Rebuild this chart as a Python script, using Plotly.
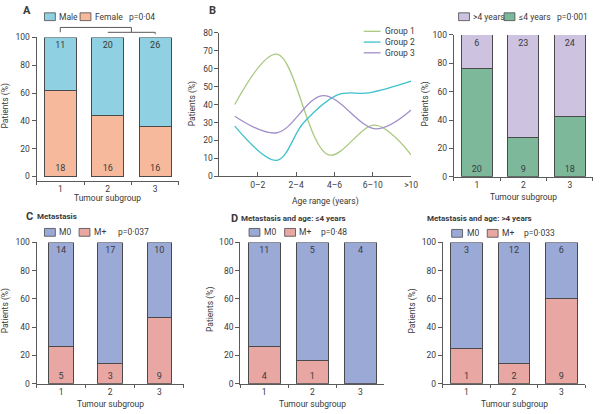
import plotly.graph_objects as go

# ---------------- data ----------------
subgroups = ["1", "2", "3"]

# A: sex
male_n = [11, 20, 26]
female_n = [18, 16, 16]
female_pct = [62, 44, 36]
male_pct = [38, 56, 64]

# B (right): age
over4_n = [6, 23, 24]
under4_n = [20, 9, 18]
under4_pct = [76.5, 28, 42.5]
over4_pct = [23.5, 72, 57.5]

# B (left): age distribution curves
age_labels = ["0–2", "2–4", "4–6", "6–10", ">10"]
g1_x = [0.4, 1.5, 2.85, 4.05, 5.0]
g1_y = [40, 68, 12, 28.5, 12]
g2_x = [0.4, 1.5, 2.2, 3.1, 3.9, 5.0]
g2_y = [28, 9, 30, 45.5, 46.5, 53]
g3_x = [0.4, 1.5, 2.7, 4.07, 5.0]
g3_y = [33.5, 24.3, 45, 26.5, 37]

# C: metastasis
c_m0_n = [14, 17, 10]
c_mp_n = [5, 3, 9]
c_mp_pct = [26, 14.5, 47]
c_m0_pct = [74, 85.5, 53]

# D: metastasis, age <=4
d_m0_n = [11, 5, 4]
d_mp_n = [4, 1, ""]
d_mp_pct = [26.5, 16.5, 0]
d_m0_pct = [73.5, 83.5, 100]

# E: metastasis, age >4
e_m0_n = [3, 12, 6]
e_mp_n = [1, 2, 9]
e_mp_pct = [25, 14, 60]
e_m0_pct = [75, 86, 40]

# ---------------- style ----------------
FONT = "Roboto, Liberation Sans, sans-serif"
FS = 8.5
TXT = "#3a3a3a"
AX = "#5a5a5a"
OUT = "#4a4a4a"
C_MALE = "#8fd0e2"
C_FEMALE = "#f7b99c"
C_OVER4 = "#cec2e1"
C_UNDER4 = "#7db89b"
C_M0 = "#9ba9d7"
C_MP = "#e8a7a2"
C_G1 = "#a9c97f"
C_G2 = "#3dc1ca"
C_G3 = "#a18fc9"

W, H = 600, 414


def px(x):
    return x / W


def py(y):
    return 1 - y / H


fig = go.Figure()
shapes = []
annotations = []


def add_stack(xa, ya, bottom, top, bottom_n, top_n, cb, ct, width, nb, nt):
    fig.add_trace(go.Bar(
        x=subgroups, y=bottom, name=nb, xaxis=xa, yaxis=ya, width=width,
        marker=dict(color=cb, line=dict(color=OUT, width=1)),
        text=bottom_n, textposition="inside", insidetextanchor="start",
        textangle=0, constraintext="none",
        textfont=dict(color=TXT, size=FS + 0.5, family=FONT), showlegend=False))
    fig.add_trace(go.Bar(
        x=subgroups, y=top, name=nt, xaxis=xa, yaxis=ya, width=width,
        marker=dict(color=ct, line=dict(color=OUT, width=1)),
        text=top_n, textposition="inside", insidetextanchor="end",
        textangle=0, constraintext="none",
        textfont=dict(color=TXT, size=FS + 0.5, family=FONT), showlegend=False))


add_stack("x", "y", female_pct, male_pct, female_n, male_n, C_FEMALE, C_MALE, 0.67, "Female", "Male")
add_stack("x3", "y3", under4_pct, over4_pct, under4_n, over4_n, C_UNDER4, C_OVER4, 0.66, "≤4 years", ">4 years")
add_stack("x4", "y4", c_mp_pct, c_m0_pct, c_mp_n, c_m0_n, C_MP, C_M0, 0.5, "M+", "M0")
add_stack("x5", "y5", d_mp_pct, d_m0_pct, d_mp_n, d_m0_n, C_MP, C_M0, 0.67, "M+", "M0")
add_stack("x6", "y6", e_mp_pct, e_m0_pct, e_mp_n, e_m0_n, C_MP, C_M0, 0.67, "M+", "M0")

for gx, gy, col, nm in [(g1_x, g1_y, C_G1, "Group 1"), (g2_x, g2_y, C_G2, "Group 2"), (g3_x, g3_y, C_G3, "Group 3")]:
    fig.add_trace(go.Scatter(x=gx, y=gy, mode="lines", name=nm, xaxis="x2", yaxis="y2",
                             line=dict(color=col, width=1.3, shape="spline", smoothing=1.0),
                             showlegend=False, cliponaxis=False))

tickfont = dict(family=FONT, size=FS, color=TXT)


def bar_axes(n, x0, x1, y0, y100, yrange):
    sx = "" if n == 1 else str(n)
    fig.update_layout(**{
        f"xaxis{sx}": dict(domain=[px(x0), px(x1)], anchor=f"y{sx}", type="category",
                           tickson="boundaries", ticks="outside", ticklen=3, tickcolor=AX,
                           showline=True, linecolor=AX, linewidth=1, showgrid=False,
                           range=[-0.5, 2.5], tickfont=tickfont, zeroline=False),
        f"yaxis{sx}": dict(domain=[py(y0), py(y100)], anchor=f"x{sx}", range=yrange,
                           tickvals=[0, 20, 40, 60, 80, 100], ticks="outside", ticklen=4,
                           tickcolor=AX, showline=True, linecolor=AX, linewidth=1,
                           showgrid=False, zeroline=False, tickfont=tickfont),
    })


bar_axes(1, 37, 181, 180, 33.3, [-3, 100])
bar_axes(3, 459, 600, 176, 30.7, [0, 100])
bar_axes(4, 37, 186, 388, 243.3, [0, 100])
bar_axes(5, 243, 389, 388, 243.3, [0, 100])
bar_axes(6, 448, 592, 388, 243.3, [0, 100])

fig.update_layout(
    xaxis2=dict(domain=[px(222), px(416)], anchor="y2", range=[0, 5], tickvals=[1, 2, 3, 4, 5],
                ticktext=age_labels, ticks="inside", ticklen=4, tickcolor=AX, showline=True,
                linecolor=AX, showgrid=False, zeroline=False, tickfont=tickfont),
    yaxis2=dict(domain=[py(175.7), py(28.3)], anchor="x2", range=[0, 80],
                tickvals=[0, 10, 20, 30, 40, 50, 60, 70, 80], ticks="outside", ticklen=4,
                tickcolor=AX, showline=True, linecolor=AX, showgrid=False, zeroline=False,
                tickfont=tickfont),
)


def text(x, y, s, size=FS, anchor="left", angle=0, bold=False):
    annotations.append(dict(x=px(x), y=py(y), xref="paper", yref="paper", text=(f"<b>{s}</b>" if bold else s),
                            showarrow=False, xanchor=anchor, yanchor="middle", textangle=angle,
                            font=dict(family=FONT, size=size, color=TXT)))


def swatch(x, y, color, label):
    shapes.append(dict(type="rect", xref="paper", yref="paper", x0=px(x), x1=px(x + 11),
                       y0=py(y + 4), y1=py(y - 4), fillcolor=color, line=dict(color=OUT, width=0.8)))
    text(x + 13, y, label)


def lineswatch(x, y, color, label):
    shapes.append(dict(type="line", xref="paper", yref="paper", x0=px(x), x1=px(x + 17),
                       y0=py(y), y1=py(y), line=dict(color=color, width=1.3)))
    text(x + 20, y, label)


# legends
swatch(45, 12, C_MALE, "Male")
swatch(81, 12, C_FEMALE, "Female")
text(128, 12, "p=0·04")

swatch(464, 12, C_OVER4, ">4 years")
swatch(510, 12, C_UNDER4, "≤4 years")
text(562, 12, "p=0·001")

lineswatch(368, 27, C_G1, "Group 1")
lineswatch(368, 38, C_G2, "Group 2")
lineswatch(368, 49, C_G3, "Group 3")

swatch(45, 233, C_M0, "M0")
swatch(80, 233, C_MP, "M+")
text(117, 233, "p=0·037")

swatch(252, 233, C_M0, "M0")
swatch(288, 233, C_MP, "M+")
text(323, 233, "p=0·48")

swatch(457, 234, C_M0, "M0")
swatch(493, 234, C_MP, "M+")
text(528, 234, "p=0·033")

# bracket in panel A (x in axis-domain fractions)
bk = dict(type="line", xref="x domain", yref="paper", line=dict(color=AX, width=1))
shapes.append(dict(bk, x0=1 / 6, x1=4 / 6, y0=py(23), y1=py(23)))
shapes.append(dict(bk, x0=1 / 6, x1=1 / 6, y0=py(23), y1=py(28)))
shapes.append(dict(bk, x0=4 / 6, x1=4 / 6, y0=py(23), y1=py(28)))
shapes.append(dict(bk, x0=3 / 6, x1=5 / 6, y0=py(28), y1=py(28)))
shapes.append(dict(bk, x0=5 / 6, x1=5 / 6, y0=py(28), y1=py(30)))

# panel labels and titles
text(21, 6, "A", size=11, bold=True)
text(209, 6, "B", size=11, bold=True)
text(24, 217, "C", size=11, bold=True)
text(35, 217, "Metastasis", size=8, bold=True)
text(232, 219, "D", size=11, bold=True)
text(242, 219, "Metastasis and age: ≤4 years", size=8, bold=True)
text(430, 219, "Metastasis and age: >4 years", size=8, bold=True)

# axis titles
for (x, y) in [(6, 103), (195, 101), (431, 101), (6, 313), (213, 312), (417, 314)]:
    text(x, y, "Patients (%)", anchor="center", angle=-90)
for (x, y) in [(109, 198), (530, 197), (112, 409), (316, 408.5), (521, 409)]:
    text(x, y, "Tumour subgroup", anchor="center")
text(329, 201, "Age range (years)", anchor="center")

fig.update_layout(
    width=W, height=H, margin=dict(l=0, r=0, t=0, b=0),
    paper_bgcolor="white", plot_bgcolor="white", barmode="stack", bargap=0.33,
    font=dict(family=FONT, size=FS, color=TXT), showlegend=False,
    shapes=shapes, annotations=annotations,
)

fig.write_html("out.html", config={"displayModeBar": False},
               post_script="document.body.style.margin='0';")
